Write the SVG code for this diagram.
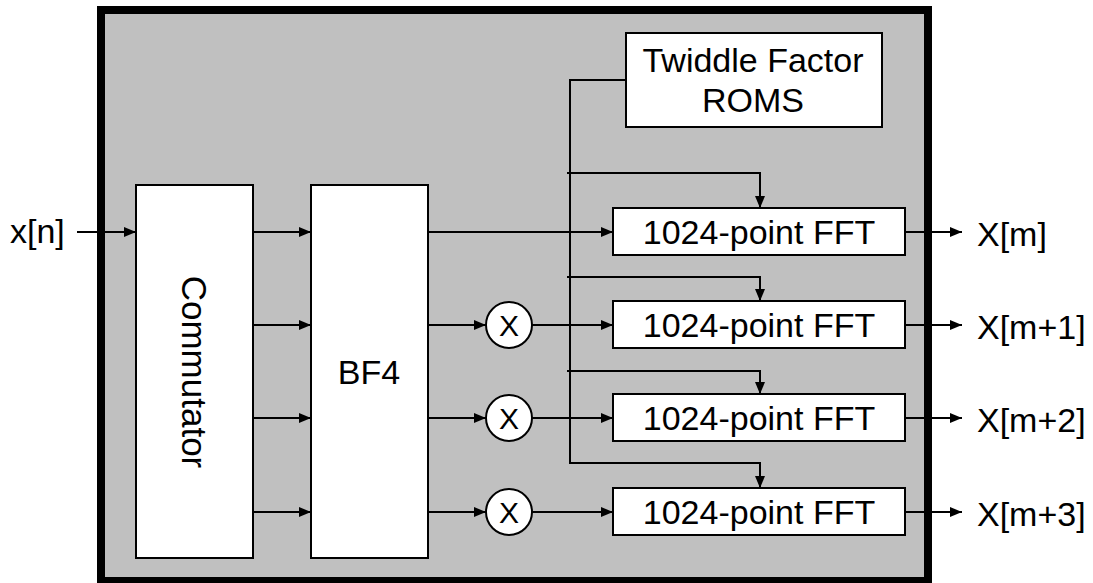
<svg xmlns="http://www.w3.org/2000/svg" width="1093" height="583" viewBox="0 0 1093 583">
<defs>
<marker id="ah" viewBox="0 0 12 10" refX="12" refY="5" markerWidth="12" markerHeight="10" markerUnits="userSpaceOnUse" orient="auto">
<path d="M0,0 L12,5 L0,10 Z" fill="#000"/>
</marker>
<style>
.t{font-family:"Liberation Sans",Arial,sans-serif;fill:#000}
.box{fill:#fff;stroke:#000;stroke-width:2}
.ln{fill:none;stroke:#000;stroke-width:2}
.ar{fill:none;stroke:#000;stroke-width:2;marker-end:url(#ah)}
</style>
</defs>
<rect width="1093" height="583" fill="#fff"/>
<g id="outer">
<rect x="101" y="10" width="827" height="571" fill="#c0c0c0" stroke="#000" stroke-width="8"/>
</g>
<g id="connectors">
<line class="ar" x1="77" y1="232" x2="136" y2="232"/>
<line class="ar" x1="253" y1="232" x2="311" y2="232"/>
<line class="ar" x1="253" y1="325" x2="311" y2="325"/>
<line class="ar" x1="253" y1="418" x2="311" y2="418"/>
<line class="ar" x1="253" y1="512" x2="311" y2="512"/>
<line class="ar" x1="428" y1="232" x2="613" y2="232"/>
<line class="ar" x1="428" y1="325" x2="486" y2="325"/>
<line class="ar" x1="428" y1="418" x2="486" y2="418"/>
<line class="ar" x1="428" y1="512" x2="486" y2="512"/>
<line class="ar" x1="532" y1="325" x2="613" y2="325"/>
<line class="ar" x1="532" y1="418" x2="613" y2="418"/>
<line class="ar" x1="532" y1="512" x2="613" y2="512"/>
<polyline class="ln" points="626,80 570,80 570,464"/>
<polyline class="ar" points="567,173 760,173 760,208"/>
<polyline class="ar" points="567,277 760,277 760,301"/>
<polyline class="ar" points="567,371 760,371 760,394"/>
<polyline class="ar" points="570,463 760,463 760,488"/>
<line class="ar" x1="905" y1="232" x2="962" y2="232"/>
<line class="ar" x1="905" y1="325" x2="962" y2="325"/>
<line class="ar" x1="905" y1="418" x2="962" y2="418"/>
<line class="ar" x1="905" y1="512" x2="962" y2="512"/>
</g>
<g id="input"><text class="t" x="10" y="243" font-size="34">x[n]</text></g>
<g id="commutator">
<rect class="box" x="136" y="185" width="117" height="373"/>
<text class="t" font-size="35" text-anchor="middle" transform="translate(182,372) rotate(90)">Commutator</text>
</g>
<g id="bf4">
<rect class="box" x="311" y="185" width="117" height="373"/>
<text class="t" x="369" y="384" font-size="34" text-anchor="middle">BF4</text>
</g>
<g id="twiddle">
<rect class="box" x="626" y="33" width="256" height="94"/>
<text class="t" x="753" y="72" font-size="34" text-anchor="middle">Twiddle Factor</text>
<text class="t" x="753" y="112" font-size="34" text-anchor="middle">ROMS</text>
</g>
<g id="mult1"><circle class="box" cx="509" cy="325" r="23"/><text class="t" x="509" y="336" font-size="30" text-anchor="middle">X</text></g>
<g id="mult2"><circle class="box" cx="509" cy="418" r="23"/><text class="t" x="509" y="429" font-size="30" text-anchor="middle">X</text></g>
<g id="mult3"><circle class="box" cx="509" cy="512" r="23"/><text class="t" x="509" y="523" font-size="30" text-anchor="middle">X</text></g>
<g id="fft1"><rect class="box" x="613" y="208" width="292" height="47"/><text class="t" x="759" y="244" font-size="34" text-anchor="middle">1024-point FFT</text></g>
<g id="fft2"><rect class="box" x="613" y="301" width="292" height="47"/><text class="t" x="759" y="337" font-size="34" text-anchor="middle">1024-point FFT</text></g>
<g id="fft3"><rect class="box" x="613" y="394" width="292" height="47"/><text class="t" x="759" y="430" font-size="34" text-anchor="middle">1024-point FFT</text></g>
<g id="fft4"><rect class="box" x="613" y="488" width="292" height="47"/><text class="t" x="759" y="524" font-size="34" text-anchor="middle">1024-point FFT</text></g>
<g id="out1"><text class="t" x="977" y="246" font-size="34">X[m]</text></g>
<g id="out2"><text class="t" x="977" y="339" font-size="34">X[m+1]</text></g>
<g id="out3"><text class="t" x="977" y="432" font-size="34">X[m+2]</text></g>
<g id="out4"><text class="t" x="977" y="526" font-size="34">X[m+3]</text></g>
</svg>
